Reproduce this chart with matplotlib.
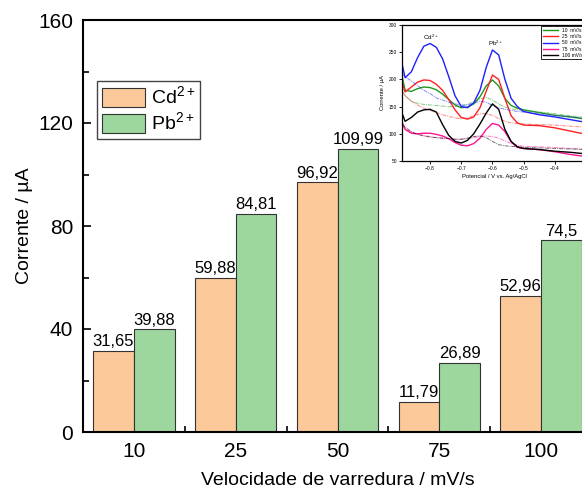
import matplotlib
matplotlib.use('Agg')
import matplotlib.pyplot as plt
import numpy as np

plt.rcParams['font.family'] = ['Liberation Sans', 'DejaVu Sans']
plt.rcParams['mathtext.fontset'] = 'custom'
plt.rcParams['mathtext.rm'] = 'Liberation Sans'

# bar data
velocidades = ['10', '25', '50', '75', '100']
cd = [31.65, 59.88, 96.92, 11.79, 52.96]
pb = [39.88, 84.81, 109.99, 26.89, 74.5]

# inset voltammograms
pot = [-0.89, -0.88, -0.86, -0.84, -0.82, -0.80, -0.78, -0.76, -0.74, -0.72, -0.70,
       -0.68, -0.66, -0.64, -0.62, -0.60, -0.58, -0.56, -0.54, -0.52, -0.50,
       -0.45, -0.40, -0.35, -0.30]
i10 = [206, 180, 178, 183, 186, 185, 181, 173, 163, 153, 148, 149, 155, 168, 188, 199,
       188, 165, 152, 147, 144, 139, 134, 131, 127]
i25 = [196, 177, 186, 195, 199, 198, 191, 180, 163, 144, 130, 127, 131, 148, 178, 208,
       200, 165, 133, 120, 116, 115, 111, 105, 99]
i50 = [229, 203, 214, 240, 261, 266, 259, 238, 205, 170, 150, 148, 157, 180, 222, 254,
       245, 200, 165, 150, 141, 135, 131, 126, 121]
i75 = [122, 108, 101, 100, 101, 101, 99, 96, 91, 84, 79, 78, 82, 92, 108, 119,
       116, 104, 85, 75, 73, 71, 67, 62, 58]
i100 = [138, 123, 130, 140, 144, 145, 140, 117, 97, 86, 83, 88, 100, 118, 138, 155,
        145, 108, 86, 76, 73, 71, 68, 66, 63]
b10 = [185, 170, 160, 156, 154, 153, 152, 151, 150, 150, 151, 154, 159, 164, 167, 162,
       155, 149, 146, 144, 143, 140, 137, 133, 130]
b25 = [178, 170, 160, 153, 147, 143, 139, 135, 132, 129, 128, 129, 133, 137, 137, 134,
       128, 123, 120, 119, 118, 117, 116, 114, 112]
b50 = [210, 205, 197, 189, 180, 174, 166, 162, 158, 155, 153, 153, 156, 160, 158, 152,
       148, 145, 143, 141, 140, 137, 134, 131, 128]
b75 = [115, 110, 103, 99, 97, 95, 93, 92, 91, 90, 90, 91, 93, 95, 96, 95,
       92, 87, 82, 79, 77, 76, 75, 73, 72]
b100 = [118, 112, 104, 99, 96, 94, 93, 92, 91, 90, 90, 92, 95, 96, 93, 86,
        80, 78, 77, 76, 75, 74, 73, 72, 71]

fig = plt.figure(figsize=(5.82, 4.95), dpi=100)
ax = fig.add_axes([83/582, 63/495, 509/582, 412/495])

x = np.arange(len(velocidades))
w = 0.4
b1 = ax.bar(x - w/2, cd, w, color='#FBC99A', edgecolor='#333333', linewidth=0.8, label='Cd$^{2+}$')
b2 = ax.bar(x + w/2, pb, w, color='#9DD79E', edgecolor='#333333', linewidth=0.8, label='Pb$^{2+}$')
ax.bar_label(b1, labels=[str(v).replace('.', ',') for v in cd], padding=1, fontsize=12)
ax.bar_label(b2, labels=[str(v).replace('.', ',') for v in pb], padding=1, fontsize=12)

ax.set_xlim(-0.5, 4.5)
ax.set_ylim(0, 160)
ax.set_xticks(x)
ax.set_xticklabels(velocidades)
ax.set_xticks(x[:-1] + 0.5, minor=True)
ax.set_yticks([0, 40, 80, 120, 160])
ax.set_yticks([20, 60, 100, 140], minor=True)
ax.tick_params(which='both', direction='in', labelsize=15, width=1.2)
ax.tick_params(which='major', length=6, pad=7)
ax.tick_params(which='minor', length=4)
ax.tick_params(axis='x', which='major', length=0)
for s in ax.spines.values():
    s.set_linewidth(1.5)
ax.set_xlabel('Velocidade de varredura / mV/s', fontsize=14, labelpad=8)
ax.set_ylabel('Corrente / µA', fontsize=14, labelpad=4)

leg = ax.legend(loc='upper left', bbox_to_anchor=(0.028, 0.852), fontsize=14,
                handlelength=2.2, handleheight=1.1, handletextpad=0.3,
                labelspacing=0.15, borderpad=0.25, borderaxespad=0,
                fancybox=False, framealpha=1, edgecolor='#444444')
leg.get_frame().set_linewidth(1.0)

# inset
ins = fig.add_axes([402/582, 334/495, 184/582, 136/495])
cores = ['#1e9a1e', '#ff2020', '#1f1fff', '#ff1493', '#000000']
nomes = ['10  mV/s', '25  mV/s', '50  mV/s', '75  mV/s', '100 mV/s']
for iv, bv, c, n in zip([i10, i25, i50, i75, i100], [b10, b25, b50, b75, b100], cores, nomes):
    ins.plot(pot, bv, color=c, lw=0.7, alpha=0.55, ls=(0, (4, 1, 1, 1)))
    ins.plot(pot, iv, color=c, lw=1.0, label=n)
ins.set_xlim(-0.89, -0.30)
ins.set_ylim(50, 300)
ins.set_xticks([-0.8, -0.7, -0.6, -0.5, -0.4])
ins.set_yticks([50, 100, 150, 200, 250, 300])
ins.tick_params(labelsize=3.5, length=2, width=0.6, pad=1.5)
for s in ins.spines.values():
    s.set_linewidth(0.9)
ins.set_xlabel('Potencial / V vs. Ag/AgCl', fontsize=4.2, labelpad=2)
ins.set_ylabel('Corrente / µA', fontsize=4.2, labelpad=3)
ins.text(-0.797, 278, 'Cd$^{2+}$', fontsize=4.5, ha='center', va='center')
ins.text(-0.589, 266, 'Pb$^{2+}$', fontsize=4.5, ha='center', va='center')
il = ins.legend(loc='upper right', fontsize=3.5, handlelength=3.2, labelspacing=0.25,
                borderpad=0.3, borderaxespad=0.3, fancybox=False, framealpha=1,
                edgecolor='black')
il.get_frame().set_linewidth(0.6)

fig.savefig('out.png', dpi=100)
